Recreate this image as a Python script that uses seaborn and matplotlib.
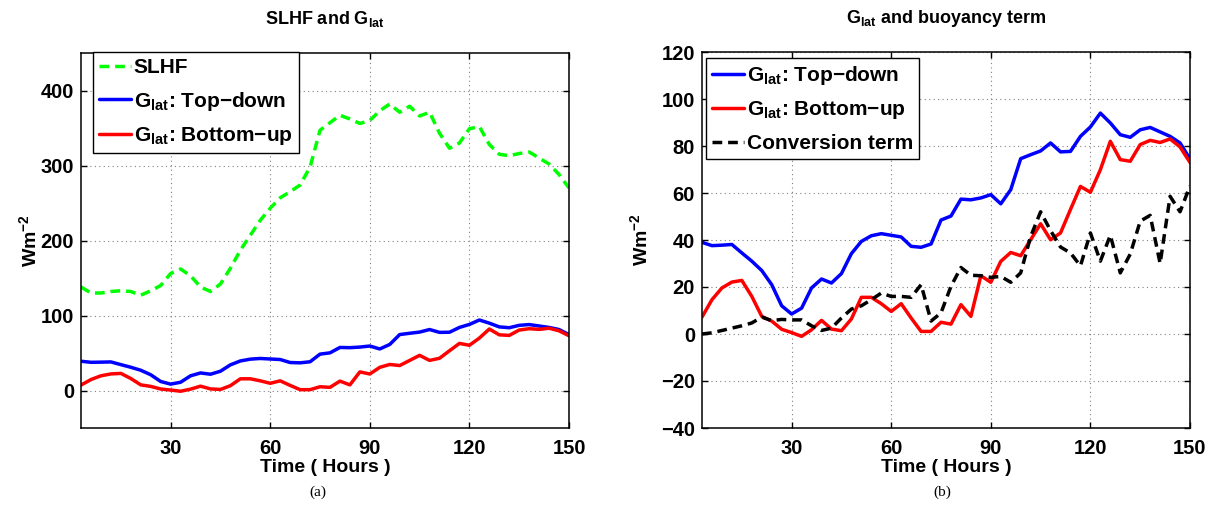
import matplotlib
matplotlib.use("Agg")
import matplotlib.pyplot as plt
import seaborn as sns
import pandas as pd

# ---------------- data ----------------
hours = list(range(3, 151, 3))

slhf = [138, 130, 130, 132, 133, 132, 127, 133, 140, 156,
        162, 153, 138, 132, 142, 163, 187, 207, 227, 243,
        257, 265, 274, 298, 347, 357, 367, 362, 356, 360,
        373, 382, 371, 379, 366, 371, 343, 323, 330, 349,
        352, 328, 315, 313, 316, 318, 310, 302, 288, 270]

g_top_down = [39, 37.6, 37.8, 38.1, 34.5, 31, 27, 21, 12, 8.5,
              11, 19.6, 23.4, 21.7, 25.7, 34.2, 39.4, 41.8, 42.7, 42,
              41.3, 37.3, 36.9, 38.3, 48.5, 50.2, 57.4, 57.1, 57.9, 59.3,
              55.4, 61.4, 74.6, 76.3, 77.9, 81.3, 77.5, 77.7, 84.1, 88.1,
              94, 89.8, 84.8, 83.7, 86.9, 87.9, 86, 84.1, 81.3, 74.5]

g_bottom_up = [7.2, 14.6, 19.6, 22.1, 22.8, 16, 7.5, 5.5, 2, 0.6,
               -1, 1.8, 5.8, 2.1, 1.4, 6.4, 15.6, 15.6, 12.9, 9.6,
               12.9, 6.8, 1.1, 1.1, 5, 4.2, 12.5, 7.5, 24.8, 22,
               30.9, 34.7, 33.3, 40.1, 46.9, 40.1, 43, 53, 62.8, 60.3,
               69.9, 82, 74.2, 73.5, 80.6, 82.4, 81.5, 83, 79.6, 73]

conversion = [0, 0.5, 1.5, 2.5, 3.5, 4.7, 7.2, 5.7, 6.2, 6,
              6, 3.5, 1.5, 2.5, 6.8, 10.6, 12, 14.6, 17.4, 16,
              16, 15.6, 21, 5.5, 9, 20.3, 28.3, 25, 24.8, 24.1,
              24.5, 22, 26, 41.5, 52, 44, 37, 34.5, 29, 43,
              31, 42, 26, 34, 48, 50.5, 30, 58.6, 52, 63]

xticks = [30, 60, 90, 120, 150]
yticks_a = [0, 100, 200, 300, 400]
yticks_b = [-40, -20, 0, 20, 40, 60, 80, 100, 120]

df = pd.DataFrame({"Time": hours, "SLHF": slhf, "TopDown": g_top_down,
                   "BottomUp": g_bottom_up, "Conversion": conversion})

# ---------------- style ----------------
sns.set_style("white")
plt.rcParams.update({
    "font.family": ["Liberation Sans", "DejaVu Sans"],
    "font.weight": "bold",
    "axes.labelweight": "bold",
    "axes.titleweight": "bold",
    "font.size": 14,
    "mathtext.fontset": "custom",
    "mathtext.rm": "Liberation Sans:bold",
    "mathtext.bf": "Liberation Sans:bold",
    "mathtext.it": "Liberation Sans:bold",
    "mathtext.default": "bf",
    "axes.linewidth": 1.1,
    "axes.edgecolor": "black",
    "xtick.direction": "in",
    "ytick.direction": "in",
    "xtick.top": True,
    "ytick.right": True,
    "xtick.bottom": True,
    "ytick.left": True,
    "xtick.major.size": 4,
    "ytick.major.size": 4,
    "xtick.major.width": 1.0,
    "ytick.major.width": 1.0,
    "xtick.major.pad": 8,
    "ytick.major.pad": 5,
    "xtick.color": "black",
    "ytick.color": "black",
    "text.color": "black",
    "axes.labelcolor": "black",
})

fig = plt.figure(figsize=(12.15, 5.11), dpi=100)
W, H = 1215.0, 511.0
ax1 = fig.add_axes([81 / W, 1 - 428 / H, 488 / W, 375 / H])
ax2 = fig.add_axes([702 / W, 1 - 428 / H, 488 / W, 376 / H])

LW = 2.5
dash = (0, (2.8, 1.7))
glat_td = r"G$_{lat}$: Top$-$down"
glat_bu = r"G$_{lat}$: Bottom$-$up"

# panel (a)
sns.lineplot(data=df, x="Time", y="SLHF", ax=ax1, color=(0, 1, 0), lw=LW,
             linestyle=dash, label="SLHF")
sns.lineplot(data=df, x="Time", y="TopDown", ax=ax1, color=(0, 0, 1), lw=LW,
             label=glat_td)
sns.lineplot(data=df, x="Time", y="BottomUp", ax=ax1, color=(1, 0, 0), lw=LW,
             label=glat_bu)
ax1.set_xlim(3, 150)
ax1.set_ylim(-50, 450)
ax1.set_yticks(yticks_a)
ax1.set_title(r"SLHF and G$_{lat}$", fontsize=13, fontweight="bold", pad=21)
ax1.set_ylabel(r"Wm$^{-2}$", fontsize=14, fontweight="bold", labelpad=0)

# panel (b)
sns.lineplot(data=df, x="Time", y="TopDown", ax=ax2, color=(0, 0, 1), lw=LW,
             label=glat_td)
sns.lineplot(data=df, x="Time", y="BottomUp", ax=ax2, color=(1, 0, 0), lw=LW,
             label=glat_bu)
sns.lineplot(data=df, x="Time", y="Conversion", ax=ax2, color="black", lw=LW,
             linestyle=dash, label="Conversion term")
ax2.set_xlim(3, 150)
ax2.set_ylim(-40, 120)
ax2.set_yticks(yticks_b)
ax2.set_title(r"G$_{lat}$ and buoyancy term", fontsize=13, fontweight="bold", pad=21)
ax2.set_ylabel(r"Wm$^{-2}$", fontsize=14, fontweight="bold", labelpad=7)

for ax in (ax1, ax2):
    ax.set_xticks(xticks)
    ax.set_xlabel("Time ( Hours )", fontsize=14, fontweight="bold", labelpad=1)
    ax.grid(True, linestyle=(0, (1, 3)), color="0.5", lw=0.8)
    for s in ax.spines.values():
        s.set_visible(True)
        s.set_color("black")
    ax.tick_params(labelsize=14.5)

leg_kw = dict(loc="upper left", borderaxespad=0, frameon=True, fancybox=False,
              edgecolor="black", framealpha=1, fontsize=15, handlelength=1.55,
              handletextpad=0.12, labelspacing=0.6, borderpad=0.3)
l1 = ax1.legend(bbox_to_anchor=(0.024, 1.003), **leg_kw)
l2 = ax2.legend(bbox_to_anchor=(0.008, 0.985), **leg_kw)
for lg in (l1, l2):
    lg.get_frame().set_linewidth(1.0)

fig.text(318 / W, 1 - 492 / H, "(a)", family="Liberation Serif",
         fontweight="normal", fontsize=11, ha="center", va="center")
fig.text(942 / W, 1 - 492 / H, "(b)", family="Liberation Serif",
         fontweight="normal", fontsize=11, ha="center", va="center")

fig.savefig("out.png", dpi=100)
